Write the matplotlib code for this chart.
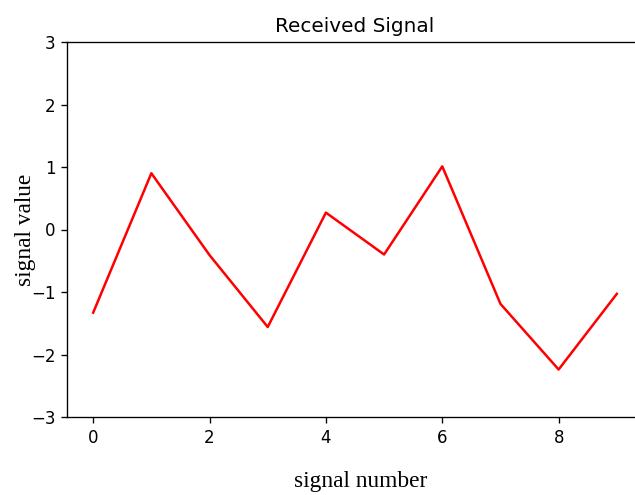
import numpy as np
import matplotlib
matplotlib.use("Agg")
import matplotlib.pyplot as plt

# received samples, one per signal index
signal_number = list(range(10))
signal_value  = [-1.33, 0.90, -0.41, -1.56, 0.27, -0.40, 1.01, -1.19, -2.24, -1.03]

y_ticks = [-3, -2, -1, 0, 1, 2, 3]
x_ticks = [0, 2, 4, 6, 8]

DPI = 120
fig = plt.figure(figsize=(635 / DPI, 495 / DPI), dpi=DPI)
# axes run slightly past the right edge of the canvas
ax = fig.add_axes([67 / 635, 78 / 495, 576 / 635, 375 / 495])

ax.plot(signal_number, signal_value, color='red', linewidth=1.5)

ax.set_xlim(-0.45, 9.45)
ax.set_ylim(-3, 3)
ax.set_xticks(x_ticks)
ax.set_yticks(y_ticks)
ax.tick_params(labelsize=10)
ax.spines['right'].set_visible(False)

ax.set_title('Received Signal', fontsize=12)
ax.set_xlabel('signal number', family='Liberation Serif', fontsize=14)
ax.set_ylabel('signal value', family='Liberation Serif', fontsize=14)
ax.xaxis.set_label_coords(0.51, -0.145)
ax.yaxis.set_label_coords(-0.054, 0.5)

fig.savefig('out.png', dpi=DPI)
